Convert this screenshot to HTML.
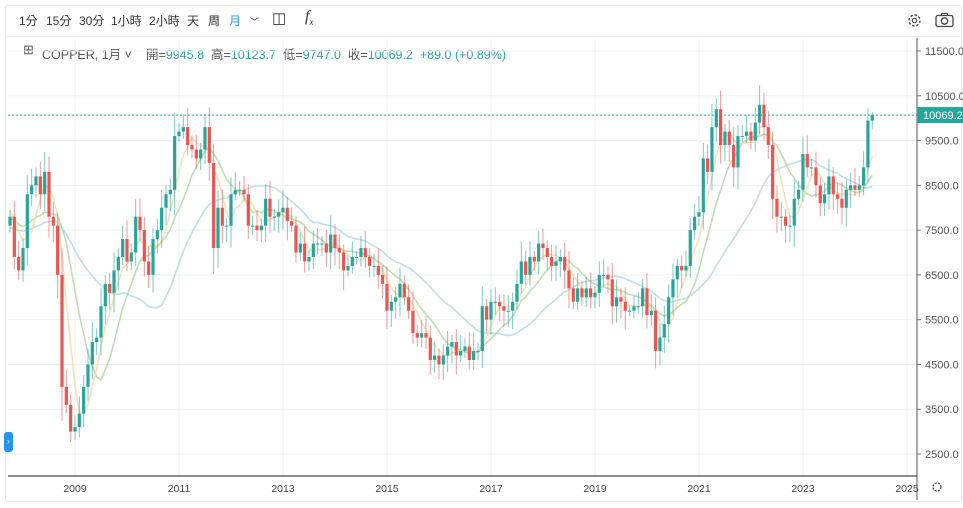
<!DOCTYPE html>
<html><head><meta charset="utf-8"><style>
body{margin:0;background:#fff;font-family:"Liberation Sans","Noto Sans CJK TC",sans-serif;}
#wrap{position:relative;width:963px;height:508px;overflow:hidden;background:#fff}
.tb{position:absolute;top:12px;font-size:12px;color:#333}
.leg{position:absolute;top:44px;font-size:12.5px;color:#555}
.g{color:#26a69a}
</style></head><body><div id="wrap">
<div style="position:absolute;left:5px;top:5px;width:955px;height:495px;border:1px solid #e8e8e8;border-radius:3px"></div>
<div style="position:absolute;left:5px;top:36px;width:955px;border-top:1px solid #eceff2"></div>
<span class="tb" style="left:19px">1分</span><span class="tb" style="left:46px">15分</span><span class="tb" style="left:79px">30分</span><span class="tb" style="left:111px">1小時</span><span class="tb" style="left:149px">2小時</span><span class="tb" style="left:187px">天</span><span class="tb" style="left:208px">周</span><span class="tb" style="left:229px;color:#2196f3">月</span><span class="tb" style="left:250px;font-size:9px;top:15px">﹀</span><span class="tb" style="left:272px;font-size:15px;top:9px">◫</span><span class="tb" style="left:305px;font-size:16px;top:8px;font-style:italic;font-family:'Liberation Serif',serif">f<sub style="font-size:9px">x</sub></span>
<span class="leg" style="left:23px;font-size:13px;top:42px">⊞</span>
<span class="leg" style="left:42px">COPPER, 1月 ˅</span>
<span class="leg" style="left:146px">開=<span class="g">9945.8</span> &nbsp;高=<span class="g">10123.7</span> &nbsp;低=<span class="g">9747.0</span> &nbsp;收=<span class="g">10069.2</span> &nbsp;<span class="g">+89.0 (+0.89%)</span></span>
<svg style="position:absolute;left:906px;top:12px" width="17" height="17" viewBox="0 0 17 17"><circle cx="8.5" cy="8.5" r="5.5" fill="none" stroke="#444" stroke-width="1.4" stroke-dasharray="2.5 1.8"/><circle cx="8.5" cy="8.5" r="2.2" fill="none" stroke="#444" stroke-width="1.2"/></svg>
<svg style="position:absolute;left:935px;top:12px" width="19" height="16" viewBox="0 0 19 16"><rect x="1" y="3.5" width="17" height="11" rx="2" fill="none" stroke="#444" stroke-width="1.3"/><circle cx="9.5" cy="9" r="3.2" fill="none" stroke="#444" stroke-width="1.3"/><path d="M6 3.5 L7 1.5 H12 L13 3.5" fill="none" stroke="#444" stroke-width="1.2"/></svg>
<svg id="c" style="position:absolute;left:0;top:0" width="963" height="508"></svg>
<div style="position:absolute;left:4px;top:432px;width:9px;height:20px;background:#2196f3;border-radius:3px;color:#fff;font-size:8px;text-align:center;line-height:20px">›</div>
</div>
<script>
var C=[7800,6900,6600,
7100,8300,8500,8700,8300,8800,7800,7600,6500,4000,3600,3000,
3100,3400,4000,4500,5000,5100,5800,6300,6100,6600,6900,7300,
6800,7000,7800,7500,6800,6500,7300,7500,8000,8300,8400,9600,
9700,9800,9400,9300,9100,9300,9800,9000,7100,8000,7600,7600,
8300,8400,8400,8300,7600,7600,7500,7600,8200,7800,7800,7900,
8000,7700,7600,7000,7200,6800,6900,7200,7200,7200,7000,7400,
7100,7000,6600,6700,6900,6900,7100,6900,6700,6700,6500,6300,
5700,5900,6000,6300,6000,5700,5200,5100,5200,5100,4600,4700,
4500,4700,4900,5000,4700,4800,4900,4600,4800,4800,5800,5500,
5900,5900,5800,5700,5700,5900,6300,6800,6500,6900,6800,7200,
7100,6900,6700,6800,6900,6600,6200,5900,6200,6000,6200,6000,
6100,6500,6500,6400,5800,6000,5900,5700,5700,5800,5800,6200,
5600,5700,4800,5100,5400,6000,6400,6700,6600,6700,7500,7800,
7900,9100,8800,9800,10200,9400,9700,9400,8900,9600,9600,9700,
9500,9900,10300,9800,9400,8200,7800,7800,7600,7600,8200,8400,
9200,8900,8900,8500,8100,8300,8700,8300,8200,8000,8400,8500,
8400,8500,8900,9945.8,10069.2];
var s=document.getElementById('c'),h='';
function Y(p){return 51+(11500-p)*0.04478;}
function X(i){return 75+(i-15)*4.333;}
for(var p=11500;p>=2500;p-=1000){var y=Y(p);h+='<line x1="8" x2="917" y1="'+y+'" y2="'+y+'" stroke="#eef2f5"/>';
h+='<line x1="917" x2="921" y1="'+y+'" y2="'+y+'" stroke="#777"/><text x="925" y="'+(y+4)+'" font-size="11" fill="#555" font-family="Liberation Sans">'+p+'.0</text>';}
for(var yr=2009;yr<=2025;yr+=2){var x=75+(yr-2009)*52;h+='<line x1="'+x+'" x2="'+x+'" y1="38" y2="476" stroke="#eef2f5"/><text x="'+x+'" y="492" font-size="10.5" fill="#444" text-anchor="middle" font-family="Liberation Sans">'+yr+'</text>';}
var pre=[6300,6200,6400,6600,6800,7000,7200,7400,7500,7600,7700,7700,7600,7500,7400,7300,7200,7100,7100,7200,7300,7400,7500,7600,7700,7800,7900,8000,8000,8000];
function ma(n,col){var A=pre.concat(C),off=pre.length,pts=[];for(var i=0;i<C.length;i++){var a=0;for(var j=i+off-n+1;j<=i+off;j++){a+=A[j];}pts.push(X(i).toFixed(1)+','+Y(a/n).toFixed(1));}
h+='<polyline points="'+pts.join(' ')+'" fill="none" stroke="'+col+'" stroke-width="1.6" opacity="0.75"/>';}
ma(24,'#a9d3e6');ma(10,'#a8d49a');ma(5,'#efdca0');
for(var i=0;i<C.length;i++){var o=i==0?7600:C[i-1],c=C[i];var r=Math.abs(c-o);
var hi=Math.max(o,c)+120+((i*37)%11)*25+r*0.15,lo=Math.min(o,c)-120-((i*53)%13)*22-r*0.15;
if(i==C.length-1){hi=10123.7;lo=9747;}
var col=c>=o?'#26a69a':'#ef5350',x=X(i);
h+='<line x1="'+x+'" x2="'+x+'" y1="'+Y(hi)+'" y2="'+Y(lo)+'" stroke="'+col+'" opacity="0.6"/>';
var y1=Y(Math.max(o,c)),hh=Math.max(1,Y(Math.min(o,c))-y1);
h+='<rect x="'+(x-1.6)+'" y="'+y1+'" width="3.2" height="'+hh+'" fill="'+col+'"/>';}
var yl=Y(10069.2);
h+='<line x1="8" x2="917" y1="'+yl+'" y2="'+yl+'" stroke="#26a69a" stroke-dasharray="2 2"/>';
h+='<line x1="917" x2="917" y1="38" y2="500" stroke="#555"/><line x1="8" x2="917" y1="476" y2="476" stroke="#444" stroke-width="1.2"/>';
h+='<rect x="917" y="'+(yl-8)+'" width="46" height="16" fill="#26a69a"/><text x="923" y="'+(yl+4)+'" font-size="11" fill="#fff" font-family="Liberation Sans">10069.2</text>';
h+='<circle cx="937" cy="487" r="4" fill="none" stroke="#444" stroke-width="1.3" stroke-dasharray="2 1.3"/>';
s.innerHTML=h;
</script></body></html>
